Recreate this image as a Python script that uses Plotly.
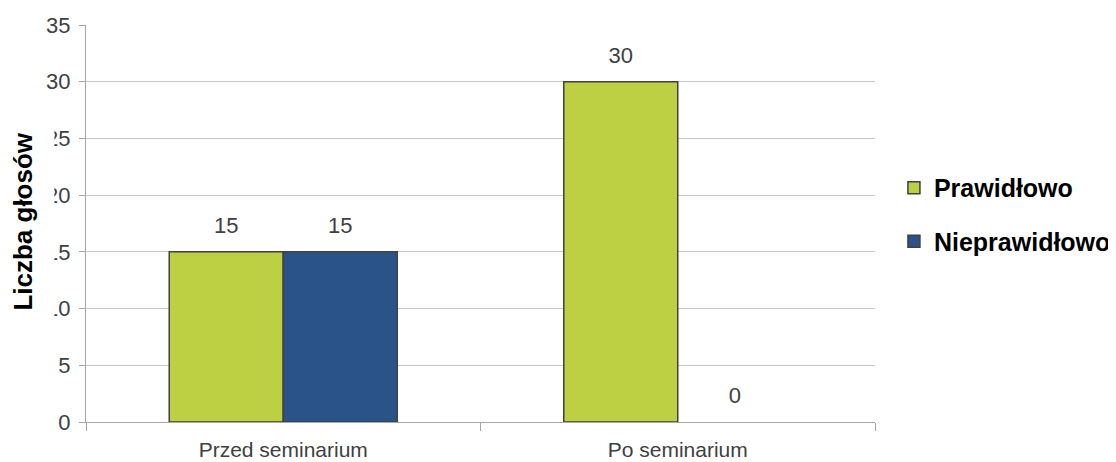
import plotly.graph_objects as go

categories = ["Przed seminarium", "Po seminarium"]
prawidlowo = [15, 30]
nieprawidlowo = [15, 0]
series_names = ["Prawidłowo", "Nieprawidłowo"]
y_ticks = [0, 5, 10, 15, 20, 25, 30, 35]
y_title = "Liczba głosów"

GREEN = "#BDCF43"
BLUE = "#2A5489"
EDGE = "#404040"
FONT = "Liberation Sans, Arial, sans-serif"
GAP = 0.422

fig = go.Figure()
series = [(series_names[0], prawidlowo, GREEN), (series_names[1], nieprawidlowo, BLUE)]
for i, (name, vals, col) in enumerate(series):
    fig.add_trace(go.Bar(
        x=categories, y=vals, name=name, legendgroup=name,
        offsetgroup=f"g{i}",
        marker=dict(color=col, line=dict(color=EDGE, width=[1.5 if v > 0 else 0 for v in vals])),
        hoverinfo="x+y+name",
    ))
# value labels, grouped the same way as the bars
for i, (name, vals, col) in enumerate(series):
    fig.add_trace(go.Scatter(
        x=categories, y=vals, mode="markers+text", text=[str(v) for v in vals],
        textposition="top center", offsetgroup=f"g{i}", showlegend=False, hoverinfo="skip",
        marker=dict(size=20, color="rgba(0,0,0,0)"),
        textfont=dict(family=FONT, size=22, color="#404040"),
        cliponaxis=False,
    ))

fig.update_layout(
    width=1116, height=462,
    margin=dict(l=78, r=249, t=17, b=48, autoexpand=False),
    paper_bgcolor="white", plot_bgcolor="white",
    barmode="group", bargap=GAP, bargroupgap=0,
    scattermode="group", scattergap=GAP,
    showlegend=True,
    legend=dict(x=1.024, y=0.5227, xanchor="left", yanchor="middle",
                font=dict(family=FONT, size=25, color="black", weight="bold"),
                traceorder="grouped", tracegroupgap=18, itemwidth=30),
    xaxis=dict(showline=True, linecolor="#A6A6A6", linewidth=1,
               ticks="outside", tickson="boundaries", ticklen=8, tickcolor="#A6A6A6",
               tickfont=dict(family=FONT, size=21, color="#404040"),
               ticklabelstandoff=9, showgrid=False, automargin=False),
    yaxis=dict(range=[0, 35], tickvals=y_ticks, showline=True, linecolor="#A6A6A6",
               ticks="outside", ticklen=6, tickcolor="#A6A6A6",
               gridcolor="#C8C8C8", gridwidth=1, zeroline=False, automargin=False,
               ticklabelstandoff=4,
               tickfont=dict(family=FONT, size=22, color="#404040")),
)

fig.add_annotation(
    text=f"<b>{y_title}</b>", textangle=-90,
    xref="paper", yref="paper", x=-0.0705, y=0.505, xanchor="center", yanchor="middle",
    showarrow=False, bgcolor="white", width=193, height=45, valign="top",
    font=dict(family=FONT, size=26, color="black"),
)

fig.write_html("out.html")
